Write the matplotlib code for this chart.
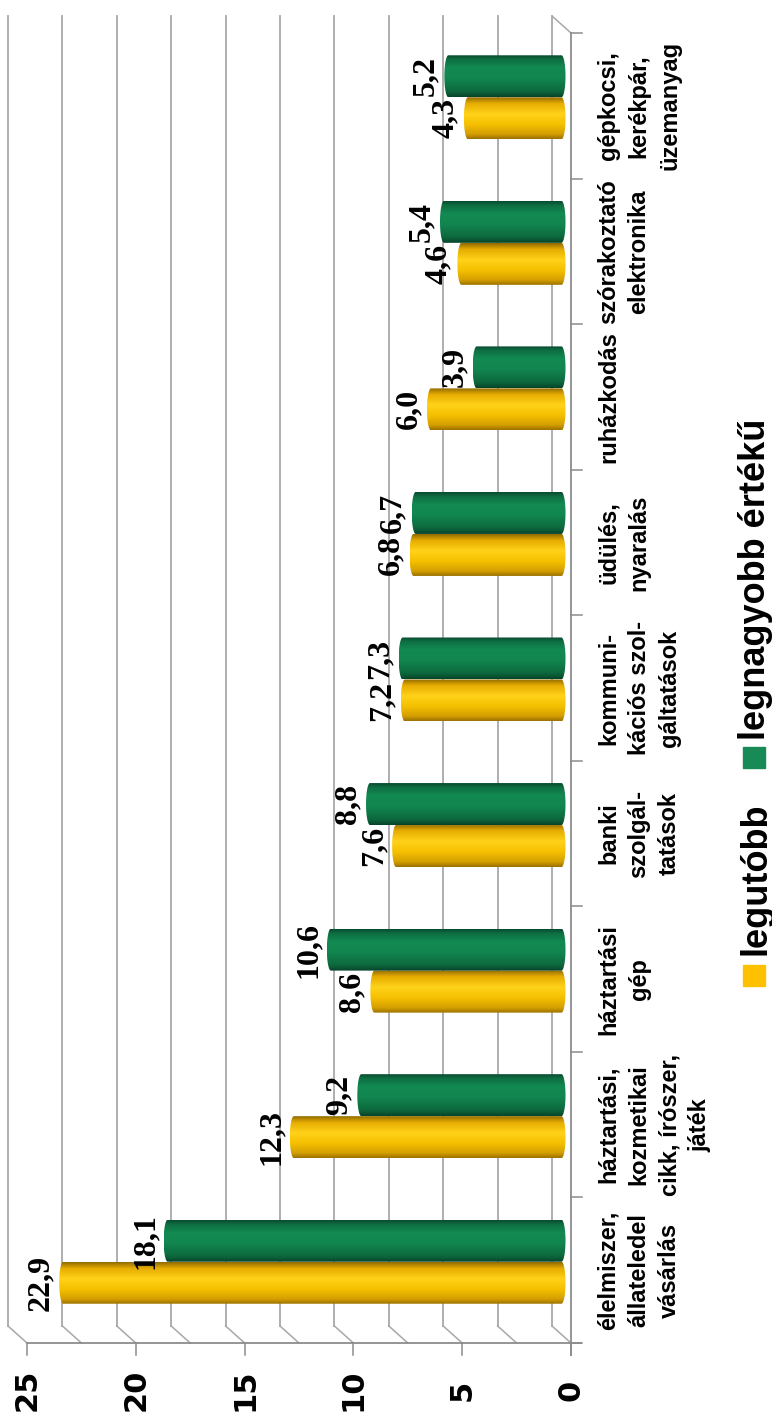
import numpy as np
import matplotlib.pyplot as plt
from matplotlib.patches import Polygon, Rectangle

# Spending categories, bottom to top
categories = [
    "élelmiszer,\nállateledel\nvásárlás",
    "háztartási,\nkozmetikai\ncikk, írószer,\njáték",
    "háztartási\ngép",
    "banki\nszolgál-\ntatások",
    "kommuni-\nkációs szol-\ngáltatások",
    "üdülés,\nnyaralás",
    "ruházkodás",
    "szórakoztató\nelektronika",
    "gépkocsi,\nkerékpár,\nüzemanyag",
]
legutobb = [22.9, 12.3, 8.6, 7.6, 7.2, 6.8, 6.0, 4.6, 4.3]
legnagyobb = [18.1, 9.2, 10.6, 8.8, 7.3, 6.7, 3.9, 5.4, 5.2]
series_names = ["legutóbb", "legnagyobb értékű"]
value_ticks = [0, 5, 10, 15, 20, 25]
grid_values = np.arange(0, 25.01, 2.5)

W, H = 772, 1425
fig = plt.figure(figsize=(W / 100, H / 100), dpi=100)
ax = fig.add_axes([27 / W, 82 / H, 544 / W, 1310 / H])
ax.set_xlim(25, 0)
ax.set_ylim(-0.5, 8.5)
ax.axis("off")

# pixel -> data unit helpers
PX_X = 544 / 25.0
PX_Y = 1310 / 9.0
BACK_DX, BACK_DY = 19 / PX_X, 17 / PX_Y     # depth of the back wall
MID_DX, MID_DY = BACK_DX / 2, BACK_DY / 2   # bars sit in the middle
BAR_H = 42 / PX_Y
CAP = 4 / PX_X

GRID_C = "#a8a8a8"
AXIS_C = "#8c8c8c"

# back wall gridlines and side-wall diagonals
for v in grid_values:
    ax.plot([v + BACK_DX] * 2, [-0.5 + BACK_DY, 8.5 + BACK_DY],
            color=GRID_C, lw=1.3, clip_on=False, zorder=1)
    ax.plot([v, v + BACK_DX], [-0.5, -0.5 + BACK_DY],
            color=GRID_C, lw=1.1, clip_on=False, zorder=1)
ax.plot([0, BACK_DX], [8.5, 8.5 + BACK_DY], color=GRID_C, lw=1.1,
        clip_on=False, zorder=1)

# floor edge (category axis) and value axis
ax.plot([0, 0], [-0.5 - 12 / PX_Y, 8.5], color=AXIS_C, lw=1.3,
        clip_on=False, zorder=2)
ax.plot([25, -10 / PX_X], [-0.5, -0.5], color=AXIS_C, lw=1.3,
        clip_on=False, zorder=2)
for k in range(len(categories) + 1):
    ax.plot([0, -11 / PX_X], [k - 0.5, k - 0.5], color=AXIS_C, lw=1.1,
            clip_on=False, zorder=2)
for v in value_ticks:
    ax.plot([v, v], [-0.5, -0.5 - 12 / PX_Y], color=AXIS_C, lw=1.1,
            clip_on=False, zorder=2)
    ax.text(v, -0.5 - 47 / PX_Y, str(v), rotation=90, ha="center",
            va="center", fontsize=22, fontweight="bold",
            family="DejaVu Sans")

for i, lab in enumerate(categories):
    ax.text(-26 / PX_X, i, lab, rotation=90, ha="left", va="center",
            multialignment="center", fontsize=17, fontweight="bold",
            family=["Liberation Sans Narrow", "Liberation Sans"],
            linespacing=1.42)


def shade(stops, n=200):
    pos = [p for p, _ in stops]
    cols = np.array([plt.matplotlib.colors.to_rgb(c) for _, c in stops])
    t = np.linspace(0, 1, n)
    return np.stack([np.interp(t, pos, cols[:, j]) for j in range(3)], axis=1)


YELLOW = shade([(0, "#9a7000"), (0.12, "#d49f00"), (0.35, "#f5c000"),
                (0.6, "#ffd21a"), (0.85, "#e6ac00"), (1, "#8f6a00")])
GREEN = shade([(0, "#07432a"), (0.15, "#0d6a3e"), (0.45, "#12864f"),
               (0.7, "#138a52"), (0.9, "#0e6e42"), (1, "#094a2e")])


def cylinder(y0, value, grad):
    x0 = MID_DX
    x1 = value + MID_DX
    yb, yt = y0 + MID_DY, y0 + MID_DY + BAR_H
    yc, ry = (yb + yt) / 2, BAR_H / 2
    t = np.linspace(-np.pi / 2, np.pi / 2, 40)
    far = np.column_stack([x1 + CAP * np.cos(t), yc + ry * np.sin(t)])
    near = np.column_stack([x0 - CAP * np.cos(t[::-1]), yc + ry * np.sin(t[::-1])])
    outline = Polygon(np.vstack([far, near]), closed=True, facecolor="none",
                      edgecolor="none", clip_on=False)
    ax.add_patch(outline)
    im = ax.imshow(grad[:, None, :], extent=[x0 - CAP, x1 + CAP, yb, yt],
                   origin="lower", aspect="auto", interpolation="bilinear",
                   zorder=3)
    im.set_clip_path(outline)
    return x1 + CAP, yc


for i in range(len(categories)):
    for j, (vals, grad) in enumerate([(legutobb, YELLOW), (legnagyobb, GREEN)]):
        v = vals[i]
        tip, yc = cylinder(i - BAR_H + j * BAR_H, v, grad)
        ax.annotate(f"{v:.1f}".replace(".", ","), xy=(tip, yc),
                    xytext=(-4, 0), textcoords="offset pixels",
                    rotation=90, ha="right", va="center", fontsize=23,
                    fontweight="bold", family="Liberation Serif", zorder=5,
                    annotation_clip=False)

ax.set_xlim(25, 0)
ax.set_ylim(-0.5, 8.5)

# legend, reading bottom to top
for name, color, sq_y, txt_y in [(series_names[0], "#ffc000", 986, 955),
                                 (series_names[1], "#188a55", 768, 740)]:
    fig.patches.append(Rectangle((743 / W, 1 - sq_y / H), 22 / W, 21 / H,
                                 transform=fig.transFigure, color=color))
    fig.text(738 / W, 1 - txt_y / H, name, rotation=90, ha="left",
             va="bottom", fontsize=26, fontweight="bold",
             family="Liberation Sans")

fig.savefig("out.png", dpi=100, facecolor="white")
